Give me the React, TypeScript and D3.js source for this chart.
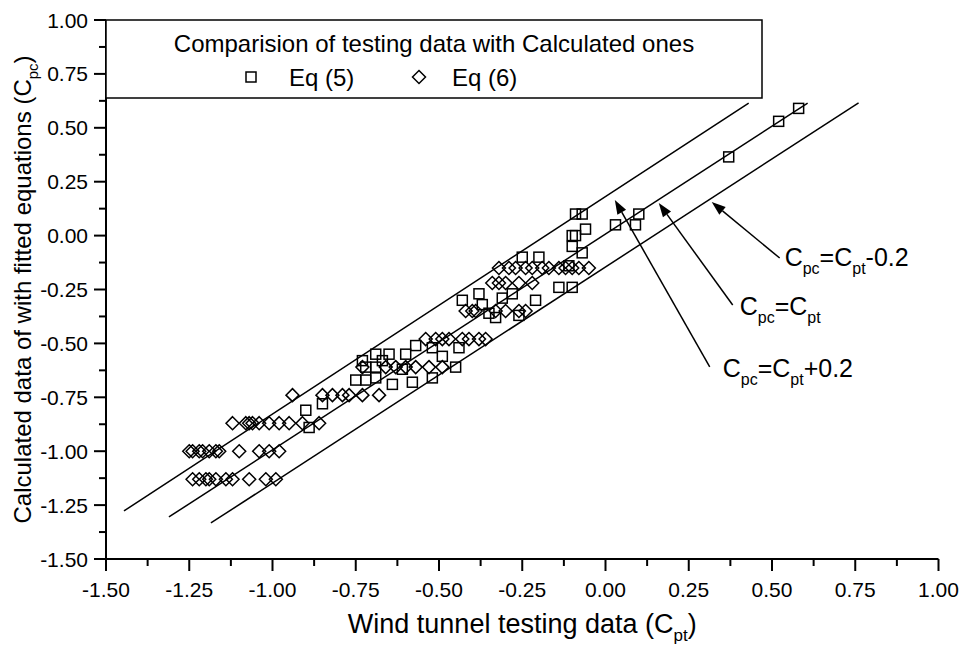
import React from "react";
import * as d3 from "d3";

// ---------- data ----------
const eq5Points: [number, number][] = [
  [-0.90, -0.81], [-0.89, -0.89], [-0.85, -0.78], [-0.75, -0.67], [-0.72, -0.67],
  [-0.72, -0.61], [-0.69, -0.61], [-0.69, -0.66], [-0.69, -0.55], [-0.73, -0.58],
  [-0.64, -0.69], [-0.58, -0.68], [-0.52, -0.66], [-0.45, -0.61], [-0.44, -0.52],
  [-0.49, -0.56], [-0.52, -0.52], [-0.57, -0.51], [-0.60, -0.55], [-0.65, -0.55],
  [-0.67, -0.58], [-0.61, -0.62],
  [-0.43, -0.30], [-0.38, -0.27], [-0.37, -0.32], [-0.35, -0.36], [-0.33, -0.38],
  [-0.31, -0.29], [-0.28, -0.27], [-0.21, -0.30], [-0.26, -0.37], [-0.25, -0.10],
  [-0.20, -0.10], [-0.14, -0.24], [-0.10, -0.24], [-0.10, -0.05], [-0.10, 0.00],
  [-0.09, 0.00], [-0.06, 0.03], [-0.07, -0.08], [-0.09, 0.10], [-0.07, 0.10],
  [-0.11, -0.14], [0.03, 0.05], [0.10, 0.10], [0.09, 0.05],
  [0.37, 0.365], [0.52, 0.53], [0.58, 0.59],
];

const eq6LevelY = [-1.13, -1.0, -0.87, -0.74, -0.61, -0.48, -0.35, -0.22, -0.15];
const eq6LevelX: number[][] = [
  [-1.24, -1.22, -1.20, -1.19, -1.17, -1.14, -1.12, -1.07, -1.02, -0.99],
  [-1.25, -1.24, -1.22, -1.21, -1.19, -1.17, -1.16, -1.10, -1.04, -1.01, -0.98],
  [-1.12, -1.08, -1.07, -1.06, -1.04, -1.01, -0.98, -0.95, -0.91, -0.86],
  [-0.94, -0.85, -0.82, -0.79, -0.77, -0.73, -0.68],
  [-0.73, -0.66, -0.63, -0.60, -0.57, -0.53, -0.49],
  [-0.54, -0.51, -0.49, -0.47, -0.43, -0.41, -0.38, -0.36],
  [-0.42, -0.40, -0.39, -0.33, -0.30, -0.26, -0.24],
  [-0.34, -0.32, -0.30, -0.26, -0.22],
  [-0.32, -0.29, -0.27, -0.24, -0.22, -0.19, -0.17, -0.14, -0.12, -0.10, -0.08, -0.05],
];

// reference lines (endpoints as drawn)
const refLines: [number, number][][] = [
  [[-1.446, -1.277], [0.43, 0.615]],
  [[-1.311, -1.305], [0.607, 0.615]],
  [[-1.185, -1.333], [0.76, 0.616]],
];

// annotations: label anchor, arrow tail, arrow head
const annoSub1 = ["pc", "pc", "pc"];
const annoSuffix = ["-0.2", "", "+0.2"];
const annoLabelPos: [number, number][] = [[0.538, -0.141], [0.403, -0.368], [0.352, -0.656]];
const annoTail: [number, number][] = [[0.523, -0.104], [0.382, -0.322], [0.313, -0.609]];
const annoHead: [number, number][] = [[0.319, 0.156], [0.16, 0.151], [0.028, 0.165]];

const xTicks = [-1.5, -1.25, -1.0, -0.75, -0.5, -0.25, 0, 0.25, 0.5, 0.75, 1.0];
const yTicks = [-1.5, -1.25, -1.0, -0.75, -0.5, -0.25, 0, 0.25, 0.5, 0.75, 1.0];

const legendTitle = "Comparision of testing data with Calculated ones";
const legendLabels = ["Eq (5)", "Eq (6)"];

// ---------- layout ----------
const W = 960, H = 646;
const x = d3.scaleLinear().domain([-1.5, 1]).range([106, 938.5]);
const y = d3.scaleLinear().domain([-1.5, 1]).range([559, 20]);
const FONT = "'Liberation Sans', Arial, Helvetica, sans-serif";
const fmt = (v: number) => d3.format(".2f")(v).replace("\u2212", "-");

const minorX = d3.range(-1.375, 1, 0.25);
const minorY = d3.range(-1.375, 1, 0.25);

function Square({ cx, cy, s = 10 }: { cx: number; cy: number; s?: number }) {
  return <rect x={cx - s / 2} y={cy - s / 2} width={s} height={s} fill="none" stroke="#000" strokeWidth={1.5} />;
}
function Diamond({ cx, cy, r = 6.5 }: { cx: number; cy: number; r?: number }) {
  return (
    <path
      d={`M${cx},${cy - r}L${cx + r},${cy}L${cx},${cy + r}L${cx - r},${cy}Z`}
      fill="none"
      stroke="#000"
      strokeWidth={1.5}
    />
  );
}

function Arrow({ tail, head }: { tail: [number, number]; head: [number, number] }) {
  const x1 = x(tail[0]), y1 = y(tail[1]), x2 = x(head[0]), y2 = y(head[1]);
  const ang = Math.atan2(y2 - y1, x2 - x1);
  const L = 14, hw = 5;
  const bx = x2 - L * Math.cos(ang), by = y2 - L * Math.sin(ang);
  const px = -Math.sin(ang) * hw, py = Math.cos(ang) * hw;
  return (
    <g>
      <line x1={x1} y1={y1} x2={bx} y2={by} stroke="#000" strokeWidth={1.5} />
      <path d={`M${x2},${y2}L${bx + px},${by + py}L${bx - px},${by - py}Z`} fill="#000" />
    </g>
  );
}

export default function App() {
  const line = d3.line<[number, number]>().x((d) => x(d[0])).y((d) => y(d[1]));
  const eq6Points: [number, number][] = [];
  eq6LevelY.forEach((ly, i) => eq6LevelX[i].forEach((lx) => eq6Points.push([lx, ly])));

  return (
    <svg
      width={W}
      height={H}
      style={{ position: "absolute", left: 0, top: 0, background: "#fff" }}
      fontFamily={FONT}
    >
      <rect width={W} height={H} fill="#fff" />

      {/* reference lines */}
      {refLines.map((seg, i) => (
        <path key={i} d={line(seg) || ""} fill="none" stroke="#000" strokeWidth={1.5} />
      ))}

      {/* data */}
      {eq5Points.map((p, i) => (
        <Square key={"s" + i} cx={x(p[0])} cy={y(p[1])} />
      ))}
      {eq6Points.map((p, i) => (
        <Diamond key={"d" + i} cx={x(p[0])} cy={y(p[1])} />
      ))}

      {/* axes */}
      <line x1={x(-1.5)} x2={x(1)} y1={y(-1.5)} y2={y(-1.5)} stroke="#000" strokeWidth={2} />
      <line x1={x(-1.5)} x2={x(-1.5)} y1={y(-1.5)} y2={y(1)} stroke="#000" strokeWidth={2} />
      {xTicks.map((t) => (
        <g key={"xt" + t}>
          <line x1={x(t)} x2={x(t)} y1={y(-1.5)} y2={y(-1.5) + 12} stroke="#000" strokeWidth={2} />
          <text x={x(t)} y={597} textAnchor="middle" fontSize={21}>
            {fmt(t)}
          </text>
        </g>
      ))}
      {minorX.map((t) => (
        <line key={"xm" + t} x1={x(t)} x2={x(t)} y1={y(-1.5)} y2={y(-1.5) + 7} stroke="#000" strokeWidth={2} />
      ))}
      {yTicks.map((t) => (
        <g key={"yt" + t}>
          <line x1={x(-1.5) - 12} x2={x(-1.5)} y1={y(t)} y2={y(t)} stroke="#000" strokeWidth={2} />
          <text x={88} y={y(t) + 7.5} textAnchor="end" fontSize={21}>
            {fmt(t)}
          </text>
        </g>
      ))}
      {minorY.map((t) => (
        <line key={"ym" + t} x1={x(-1.5) - 7} x2={x(-1.5)} y1={y(t)} y2={y(t)} stroke="#000" strokeWidth={2} />
      ))}

      {/* axis titles */}
      <text x={(x(-1.5) + x(1)) / 2} y={633} textAnchor="middle" fontSize={27}>
        <tspan>Wind tunnel testing data (C</tspan>
        <tspan fontSize={17} dy={8}>pt</tspan>
        <tspan dy={-8}>)</tspan>
      </text>
      <text
        transform={`translate(31,${(y(-1.5) + y(1)) / 2}) rotate(-90)`}
        textAnchor="middle"
        fontSize={24}
      >
        <tspan>Calculated data of with fitted equations (C</tspan>
        <tspan fontSize={15} dy={7}>pc</tspan>
        <tspan dy={-7}>)</tspan>
      </text>

      {/* legend */}
      <rect x={x(-1.5)} y={y(1)} width={762 - x(-1.5)} height={78} fill="#fff" stroke="#000" strokeWidth={1.5} />
      <text x={(x(-1.5) + 762) / 2} y={52} textAnchor="middle" fontSize={24}>
        {legendTitle}
      </text>
      <Square cx={251} cy={77} />
      <text x={289} y={86} fontSize={24}>
        {legendLabels[0]}
      </text>
      <Diamond cx={419} cy={77} />
      <text x={452} y={86} fontSize={24}>
        {legendLabels[1]}
      </text>

      {/* annotations */}
      {annoLabelPos.map((p, i) => (
        <g key={"a" + i}>
          <Arrow tail={annoTail[i]} head={annoHead[i]} />
          <text x={x(p[0])} y={y(p[1])} fontSize={25}>
            <tspan>C</tspan>
            <tspan fontSize={16} dy={8}>{annoSub1[i]}</tspan>
            <tspan dy={-8}>=C</tspan>
            <tspan fontSize={16} dy={8}>pt</tspan>
            <tspan dy={-8}>{annoSuffix[i]}</tspan>
          </text>
        </g>
      ))}
    </svg>
  );
}
